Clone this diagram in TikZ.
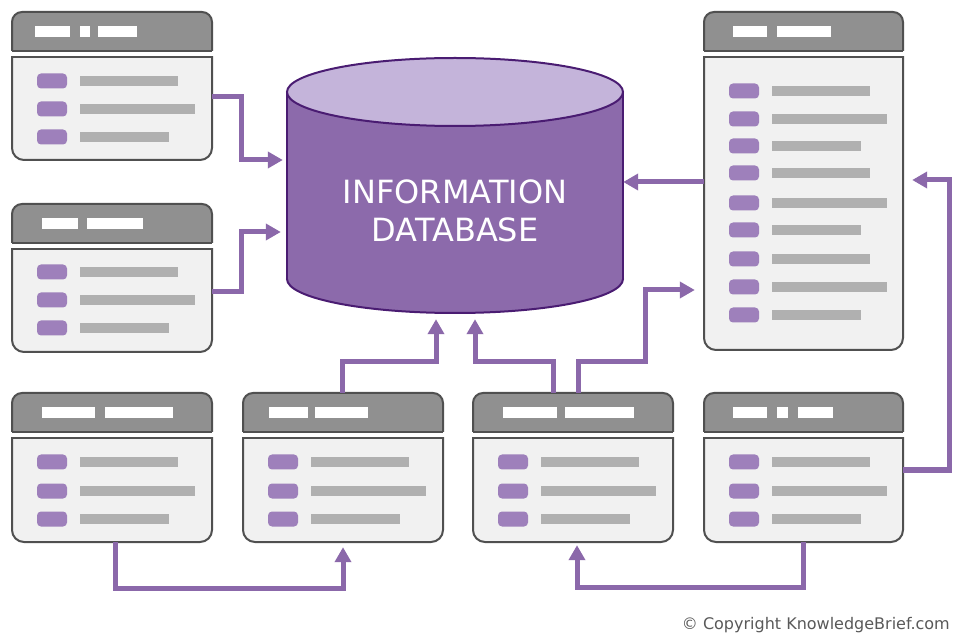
\documentclass[tikz,border=0pt]{standalone}
\usepackage{fontspec}
\setmainfont{DejaVu Sans}
\usetikzlibrary{arrows.meta,fit}
\definecolor{hdrfill}{HTML}{909090}
\definecolor{edgec}{HTML}{505050}
\definecolor{bodyfill}{HTML}{F1F1F1}
\definecolor{pillc}{HTML}{9E80BB}
\definecolor{barc}{HTML}{B0B0B0}
\definecolor{connc}{HTML}{8B68AA}
\definecolor{cylside}{HTML}{8C6AAB}
\definecolor{cyltop}{HTML}{C4B4DA}
\definecolor{cyledge}{HTML}{4A1C72}
\tikzset{
  hdr/.style={fill=hdrfill, draw=edgec, line width=2pt, rounded corners=10pt},
  bodyst/.style={fill=bodyfill, draw=edgec, line width=2pt, rounded corners=12pt},
  edgeline/.style={draw=edgec, line width=2pt},
  pill/.style={fill=pillc, rounded corners=4pt},
  bar/.style={fill=barc},
  conn/.style={draw=connc, line width=5pt, -{Triangle[length=15pt,width=16pt]}},
}
% name, x1, x2, top, bottom, header bars, rows
\newcommand\mywin[7]{%
  \node[fit={(#2,#4) (#3,#5)}, inner sep=0pt] (#1) {};
  \begin{scope}
    \clip (#2-5,#4-5) rectangle (#3+5,#4+39);
    \draw[hdr] (#2,#4) rectangle (#3,#4+60);
  \end{scope}
  \draw[edgeline] (#2,#4+39) -- (#3,#4+39);
  \foreach \a/\b in {#6} {\fill[white] (#2+\a,#4+14) rectangle (#2+\b,#4+25);}
  \begin{scope}
    \clip (#2-5,#4+45) rectangle (#3+5,#5+5);
    \draw[bodyst] (#2,#4+20) rectangle (#3,#5);
  \end{scope}
  \draw[edgeline] (#2-1,#4+45) -- (#3+1,#4+45);
  \foreach \y/\e in {#7} {
    \fill[pill] (#2+25,#4+45+\y-7.5) rectangle (#2+55,#4+45+\y+7.5);
    \fill[bar] (#2+68,#4+45+\y-5) rectangle (#2+\e,#4+45+\y+5);
  }
}
\begin{document}
\begin{tikzpicture}[x=1pt,y=-1pt]
\useasboundingbox[fill=white] (0,0) rectangle (954,636);

% windows
\mywin{wA}{12}{212}{12}{160}{23/58,68/78,86/125}{24/166,52/183,80/157}
\mywin{wB}{12}{212}{204}{352}{30/66,75/131}{23/166,51/183,79/157}
\mywin{wC}{12}{212}{393}{542}{30/83,93/161}{24/166,53/183,81/157}
\mywin{wD}{243}{443}{393}{542}{26/65,72/125}{24/166,53/183,81/157}
\mywin{wE}{473}{673}{393}{542}{30/84,92/161}{24/166,53/183,81/157}
\mywin{wF}{704}{903}{393}{542}{29/63,73/84,94/129}{24/166,53/183,81/157}
\mywin{wR}{704}{903}{12}{350}{29/63,73/127}{34/166,62/183,89/157,116/166,146/183,173/157,202/166,230/183,258/157}

% database cylinder
\node[fit={(287,58) (623,313)}, inner sep=0pt] (db) {};
\filldraw[fill=cylside, draw=cyledge, line width=2pt] (455,279) ellipse [x radius=168, y radius=34];
\fill[cylside] (287,92) rectangle (623,279);
\draw[cyledge, line width=2pt] (287,92) -- (287,279) (623,92) -- (623,279);
\filldraw[fill=cyltop, draw=cyledge, line width=2pt] (455,92) ellipse [x radius=168, y radius=34];
\node[text=white, font=\fontsize{32}{38}\selectfont, align=center] (dbtext) at (455,211) {INFORMATION\\DATABASE};

% connectors
\draw[conn, shorten >=4pt] (wA.east |- 0,97) -| (241,160) -- (db.west |- 0,160);
\draw[conn, shorten >=6pt] (wB.east |- 0,292) -| (241,232) -- (db.west |- 0,232);
\draw[conn] (wR.west |- 0,182) -- (db.east |- 0,182);
\draw[conn, shorten >=9pt] (wF.east |- 0,470) -| (949,180) -- (wR.east |- 0,180);
\draw[conn, shorten >=6pt] (wD.north -| 342,0) |- (436,362) -- (db.south -| 436,0);
\draw[conn, shorten >=6pt] (wE.north -| 553,0) |- (475,362) -- (db.south -| 475,0);
\draw[conn, shorten >=9pt] (wE.north -| 578,0) |- (645,362) |- (wR.west |- 0,290);
\draw[conn, shorten >=5pt] (wC.south -| 115,0) |- (343,588) -- (wD.south -| 343,0);
\draw[conn, shorten >=3pt] (wF.south -| 803,0) |- (577,587) -- (wE.south -| 577,0);

% copyright
\node[anchor=east, text=black!65, font=\fontsize{16}{18}\selectfont, inner sep=0pt] (cr) at (950,625) {© Copyright KnowledgeBrief.com};
\end{tikzpicture}
\end{document}
